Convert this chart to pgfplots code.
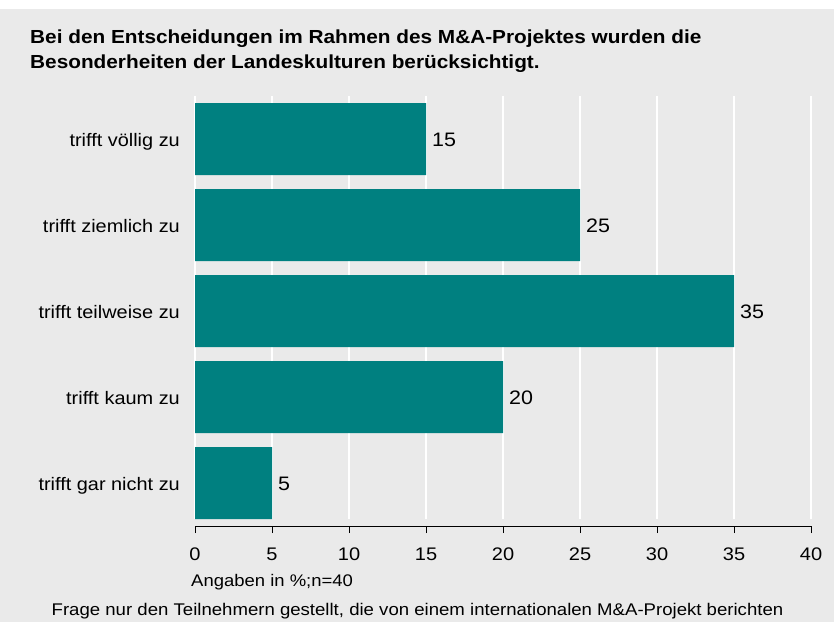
\documentclass[border=0pt]{standalone}
\usepackage{pgfplots}
\pgfplotsset{compat=1.18}
\usepackage{fontspec}
\setmainfont{Liberation Sans}[FakeStretch=1.1]
\definecolor{bgc}{RGB}{234,234,234}
\definecolor{barc}{RGB}{0,128,128}
\begin{document}
\begin{tikzpicture}
\fill[white] (0pt,0pt) rectangle (834pt,-622pt);
\fill[bgc] (0pt,-9pt) rectangle (834pt,-622pt);
\node[anchor=base west, inner sep=0pt, font=\fontsize{18.9}{25}\selectfont\bfseries] at (30pt,-43.5pt) {Bei den Entscheidungen im Rahmen des M\&A-Projektes wurden die};
\node[anchor=base west, inner sep=0pt, font=\fontsize{18.9}{25}\selectfont\bfseries] at (30pt,-68.5pt) {Besonderheiten der Landeskulturen berücksichtigt.};
\begin{axis}[
  at={(195pt,-526pt)}, anchor=south west,
  scale only axis, width=616pt, height=430pt,
  xmin=0, xmax=40, ymin=0.5, ymax=5.5,
  xbar, bar width=72pt,
  axis x line=bottom, axis y line=left,
  y axis line style={draw=none},
  x axis line style={-, line width=0.8pt, black},
  ytick={1,...,5},
  yticklabels={trifft gar nicht zu, trifft kaum zu, trifft teilweise zu, trifft ziemlich zu, trifft völlig zu},
  ytick style={draw=none},
  xtick={0,5,...,40},
  tick align=outside, major tick length=7pt,
  xtick style={black, line width=0.8pt},
  /pgf/number format/assume math mode=true,
  yticklabel style={font=\fontsize{18.1}{20}\selectfont, anchor=base east, inner sep=0pt, xshift=-8pt, yshift=-7pt},
  xticklabel style={font=\fontsize{18.2}{20}\selectfont, anchor=base, inner sep=0pt, yshift=-27pt},
  nodes near coords,
  nodes near coords style={font=\fontsize{19.5}{22}\selectfont, anchor=base west, inner sep=0pt, xshift=6pt, yshift=-7.5pt, black},
  clip=false,
]
\pgfplotsinvokeforeach{0,5,...,40}{
  \draw[white, line width=1.5pt] (axis cs:#1,0.58) -- (axis cs:#1,5.5);
}
\addplot[fill=barc, draw=none] coordinates {(15,5) (25,4) (35,3) (20,2) (5,1)};
\end{axis}
\node[anchor=base west, inner sep=0pt, font=\fontsize{16.8}{19}\selectfont] at (191pt,-586pt) {Angaben in \%;n=40};
\node[anchor=base, inner sep=0pt, font=\fontsize{16.9}{19}\selectfont] at (417.5pt,-615pt) {Frage nur den Teilnehmern gestellt, die von einem internationalen M\&A-Projekt berichten};
\end{tikzpicture}
\end{document}
